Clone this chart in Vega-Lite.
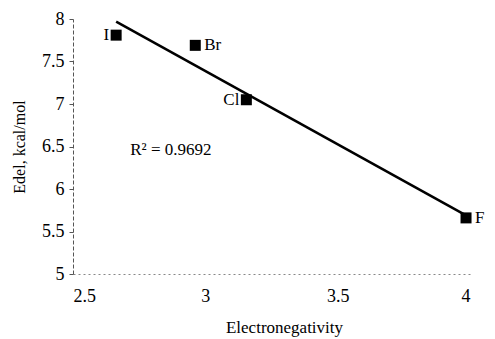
{
  "$schema": "https://vega.github.io/schema/vega-lite/v6.json",
  "width": 397,
  "height": 255,
  "autosize": {"type": "none"},
  "padding": {"left": 73, "top": 19, "right": 25, "bottom": 65},
  "background": "white",
  "config": {
    "view": {"stroke": null},
    "font": "Liberation Serif",
    "axis": {"grid": false, "labelColor": "black", "titleColor": "black", "titleFontWeight": "normal"}
  },
  "datasets": {
    "pts": [
      {"en": 2.663, "e": 7.81, "label": "I"},
      {"en": 2.962, "e": 7.69, "label": "Br"},
      {"en": 3.155, "e": 7.05, "label": "Cl"},
      {"en": 3.985, "e": 5.66, "label": "F"}
    ],
    "fit": [
      {"en": 2.663, "e": 7.97},
      {"en": 3.985, "e": 5.69}
    ],
    "note": [
      {"en": 2.87, "e": 6.46, "text": "R² = 0.9692"}
    ]
  },
  "layer": [
    {
      "data": {"name": "fit"},
      "mark": {"type": "line", "color": "black", "strokeWidth": 2.5},
      "encoding": {
        "x": {"field": "en", "type": "quantitative", "scale": {"domain": [2.5, 4], "nice": false},
              "axis": {"title": "Electronegativity", "titleX": 211, "values": [2.5, 3, 3.5, 4], "format": "~g", "labelFont": "Times New Roman", "titleFont": "Times New Roman", "labelFontSize": 18, "titleFontSize": 17, "domainColor": "#888", "domainDash": [2, 3], "tickSize": 0, "labelPadding": 13, "titlePadding": 14}},
        "y": {"field": "e", "type": "quantitative", "scale": {"domain": [5, 8], "nice": false, "zero": false},
              "axis": {"title": "Edel, kcal/mol", "values": [5, 5.5, 6, 6.5, 7, 7.5, 8], "format": "~g", "labelFont": "Times New Roman", "titleFont": "Times New Roman", "labelFontSize": 18, "titleFontSize": 16, "domainColor": "#555", "domainDash": [4, 2], "tickSize": 4, "tickColor": "#555", "labelPadding": 5, "titlePadding": 14}}
      }
    },
    {
      "data": {"name": "pts"},
      "mark": {"type": "point", "shape": "square", "filled": true, "color": "black", "size": 121, "opacity": 1},
      "encoding": {
        "x": {"field": "en", "type": "quantitative"},
        "y": {"field": "e", "type": "quantitative"}
      }
    },
    {
      "data": {"name": "pts"},
      "transform": [{"filter": "datum.label == 'I' || datum.label == 'Cl'"}],
      "mark": {"type": "text", "align": "right", "dx": -7, "fontSize": 17, "font": "Times New Roman", "color": "black"},
      "encoding": {
        "x": {"field": "en", "type": "quantitative"},
        "y": {"field": "e", "type": "quantitative"},
        "text": {"field": "label"}
      }
    },
    {
      "data": {"name": "pts"},
      "transform": [{"filter": "datum.label == 'Br' || datum.label == 'F'"}],
      "mark": {"type": "text", "align": "left", "dx": 9, "fontSize": 17, "font": "Times New Roman", "color": "black"},
      "encoding": {
        "x": {"field": "en", "type": "quantitative"},
        "y": {"field": "e", "type": "quantitative"},
        "text": {"field": "label"}
      }
    },
    {
      "data": {"name": "note"},
      "mark": {"type": "text", "align": "center", "fontSize": 17, "font": "Times New Roman", "color": "black"},
      "encoding": {
        "x": {"field": "en", "type": "quantitative"},
        "y": {"field": "e", "type": "quantitative"},
        "text": {"field": "text"}
      }
    }
  ]
}
